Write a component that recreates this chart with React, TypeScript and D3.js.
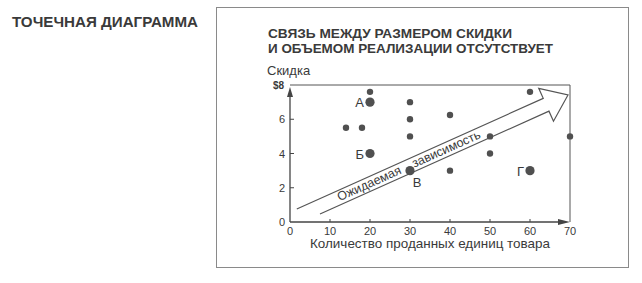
import React from "react";
import * as d3 from "d3";

const xTicks = [0, 10, 20, 30, 40, 50, 60, 70];
const yTicks = [0, 2, 4, 6];
const yTopLabel = "$8";

// small dots: [units sold, discount $]
const dotsX = [20, 30, 14, 18, 30, 40, 30, 40, 60, 50, 50, 70];
const dotsY = [7.6, 7, 5.5, 5.5, 6, 6.25, 5, 3, 7.6, 5, 4, 5];

// highlighted labelled points
const keyLabels = ["А", "Б", "В", "Г"];
const keyX = [20, 20, 30, 60];
const keyY = [7, 4, 3, 3];

// expected-relationship arrow (data units)
const arrowTail = [0, 0.13];
const arrowTip = [69.5, 7.42];
const arrowUpperStartX = 1.7;
const arrowLowerStartX = 7.5;

const W = 642;
const H = 283;
const FONT = "'Liberation Sans', Arial, sans-serif";
const INK = "#3a3a3a";
const DOT = "#505050";

export default function App() {
  const x = d3.scaleLinear().domain([0, 70]).range([290, 570]);
  const y = d3.scaleLinear().domain([0, 8]).range([222, 85]);

  // arrow geometry
  const T = [x(arrowTail[0]), y(arrowTail[1])];
  const P = [x(arrowTip[0]), y(arrowTip[1])];
  const len = Math.hypot(P[0] - T[0], P[1] - T[1]);
  const u = [(P[0] - T[0]) / len, (P[1] - T[1]) / len];
  const n = [-u[1], u[0]];
  const sw = 7; // shaft half width
  const hw = 18; // head half width
  const hl = 24; // head length
  const pt = (t: number, o: number) => [T[0] + t * u[0] + o * n[0], T[1] + t * u[1] + o * n[1]];
  const tAtX = (X: number, o: number) => (X - T[0] - o * n[0]) / u[0];
  const tBase = len - hl;
  const upStart = pt(tAtX(x(arrowUpperStartX), -sw), -sw);
  const loStart = pt(tAtX(x(arrowLowerStartX), sw), sw);
  const arrowPts = [
    upStart,
    pt(tBase, -sw),
    pt(tBase, -hw),
    P,
    pt(tBase, hw),
    pt(tBase, sw),
    loStart,
  ];
  const arrowPath = d3.line()(arrowPts as [number, number][]) as string;
  const angle = (Math.atan2(u[1], u[0]) * 180) / Math.PI;
  const txt1 = pt(len - 252, 3.5);
  const txt2 = pt(len - 170, 3.5);

  return (
    <svg
      width={W}
      height={H}
      style={{ position: "absolute", left: 0, top: 0, background: "#fff" }}
      fontFamily={FONT}
    >
      <rect x={0} y={0} width={W} height={H} fill="#fff" />
      <text x={12} y={27} fontSize={14.5} fontWeight="bold" fill={INK} textLength={186} lengthAdjust="spacingAndGlyphs">
        ТОЧЕЧНАЯ ДИАГРАММА
      </text>
      <rect x={216.5} y={7.5} width={412} height={260} fill="none" stroke="#8a8a8a" strokeWidth={1} />
      <text x={268} y={38} fontSize={13} fontWeight="bold" fill={INK} textLength={244} lengthAdjust="spacingAndGlyphs">
        СВЯЗЬ МЕЖДУ РАЗМЕРОМ СКИДКИ
      </text>
      <text x={268} y={53} fontSize={13} fontWeight="bold" fill={INK} textLength={285} lengthAdjust="spacingAndGlyphs">
        И ОБЪЕМОМ РЕАЛИЗАЦИИ ОТСУТСТВУЕТ
      </text>
      <text x={267} y={75} fontSize={13} fill={INK}>
        Скидка
      </text>

      {/* frame lines */}
      <line x1={x(0)} x2={x(70)} y1={y(8)} y2={y(8)} stroke="#555" strokeWidth={1} />
      <line x1={x(70)} x2={x(70)} y1={y(8)} y2={y(0)} stroke="#555" strokeWidth={1} />

      {/* axes */}
      <line x1={x(0)} x2={x(0)} y1={y(0)} y2={y(8) + 6} stroke="#444" strokeWidth={1.3} />
      <path
        d={`M${x(0)},${y(8) + 2} L${x(0) - 3},${y(8) + 12} L${x(0) + 3},${y(8) + 12} Z`}
        fill="#444"
      />
      <line x1={x(0)} x2={x(70) - 6} y1={y(0)} y2={y(0)} stroke="#444" strokeWidth={1.3} />
      <path
        d={`M${x(70)},${y(0)} L${x(70) - 12},${y(0) - 3} L${x(70) - 12},${y(0) + 3} Z`}
        fill="#444"
      />

      {xTicks.slice(1, -1).map((t) => (
        <line key={"xt" + t} x1={x(t)} x2={x(t)} y1={y(0) - 3} y2={y(0)} stroke="#444" strokeWidth={1} />
      ))}
      {yTicks.slice(1).map((t) => (
        <line key={"yt" + t} x1={x(0)} x2={x(0) + 4} y1={y(t)} y2={y(t)} stroke="#444" strokeWidth={1} />
      ))}
      {xTicks.map((t) => (
        <text key={"xl" + t} x={x(t)} y={y(0) + 13} fontSize={11} fill={INK} textAnchor="middle">
          {t}
        </text>
      ))}
      {yTicks.map((t) => (
        <text key={"yl" + t} x={x(0) - 5} y={y(t) + 4} fontSize={11} fill={INK} textAnchor="end">
          {t}
        </text>
      ))}
      <text x={x(0) - 6} y={y(8) + 4} fontSize={10} fontWeight="bold" fill={INK} textAnchor="end">
        {yTopLabel}
      </text>
      <text x={x(35)} y={248} fontSize={13} fill={INK} textAnchor="middle" textLength={240} lengthAdjust="spacingAndGlyphs">
        Количество проданных единиц товара
      </text>

      {/* arrow */}
      <path d={arrowPath} fill="#fff" stroke="#555" strokeWidth={1.2} strokeLinejoin="miter" />
      <text
        x={txt1[0]}
        y={txt1[1]}
        fontSize={12.5}
        fill={INK}
        transform={`rotate(${angle},${txt1[0]},${txt1[1]})`}
      >
        Ожидаемая
      </text>
      <text
        x={txt2[0]}
        y={txt2[1]}
        fontSize={12.5}
        fill={INK}
        transform={`rotate(${angle},${txt2[0]},${txt2[1]})`}
      >
        зависимость
      </text>

      {/* dots */}
      {dotsX.map((d, i) => (
        <circle key={"d" + i} cx={x(d)} cy={y(dotsY[i])} r={3.2} fill={DOT} />
      ))}
      {keyX.map((d, i) => (
        <circle key={"k" + i} cx={x(d)} cy={y(keyY[i])} r={4.6} fill={DOT} />
      ))}
      {keyLabels.map((l, i) => {
        const below = l === "В";
        return (
          <text
            key={"kl" + i}
            x={below ? x(keyX[i]) + 7 : x(keyX[i]) - 6}
            y={below ? y(keyY[i]) + 16 : y(keyY[i]) + 5}
            fontSize={13}
            fill={INK}
            textAnchor={below ? "middle" : "end"}
          >
            {l}
          </text>
        );
      })}
    </svg>
  );
}
